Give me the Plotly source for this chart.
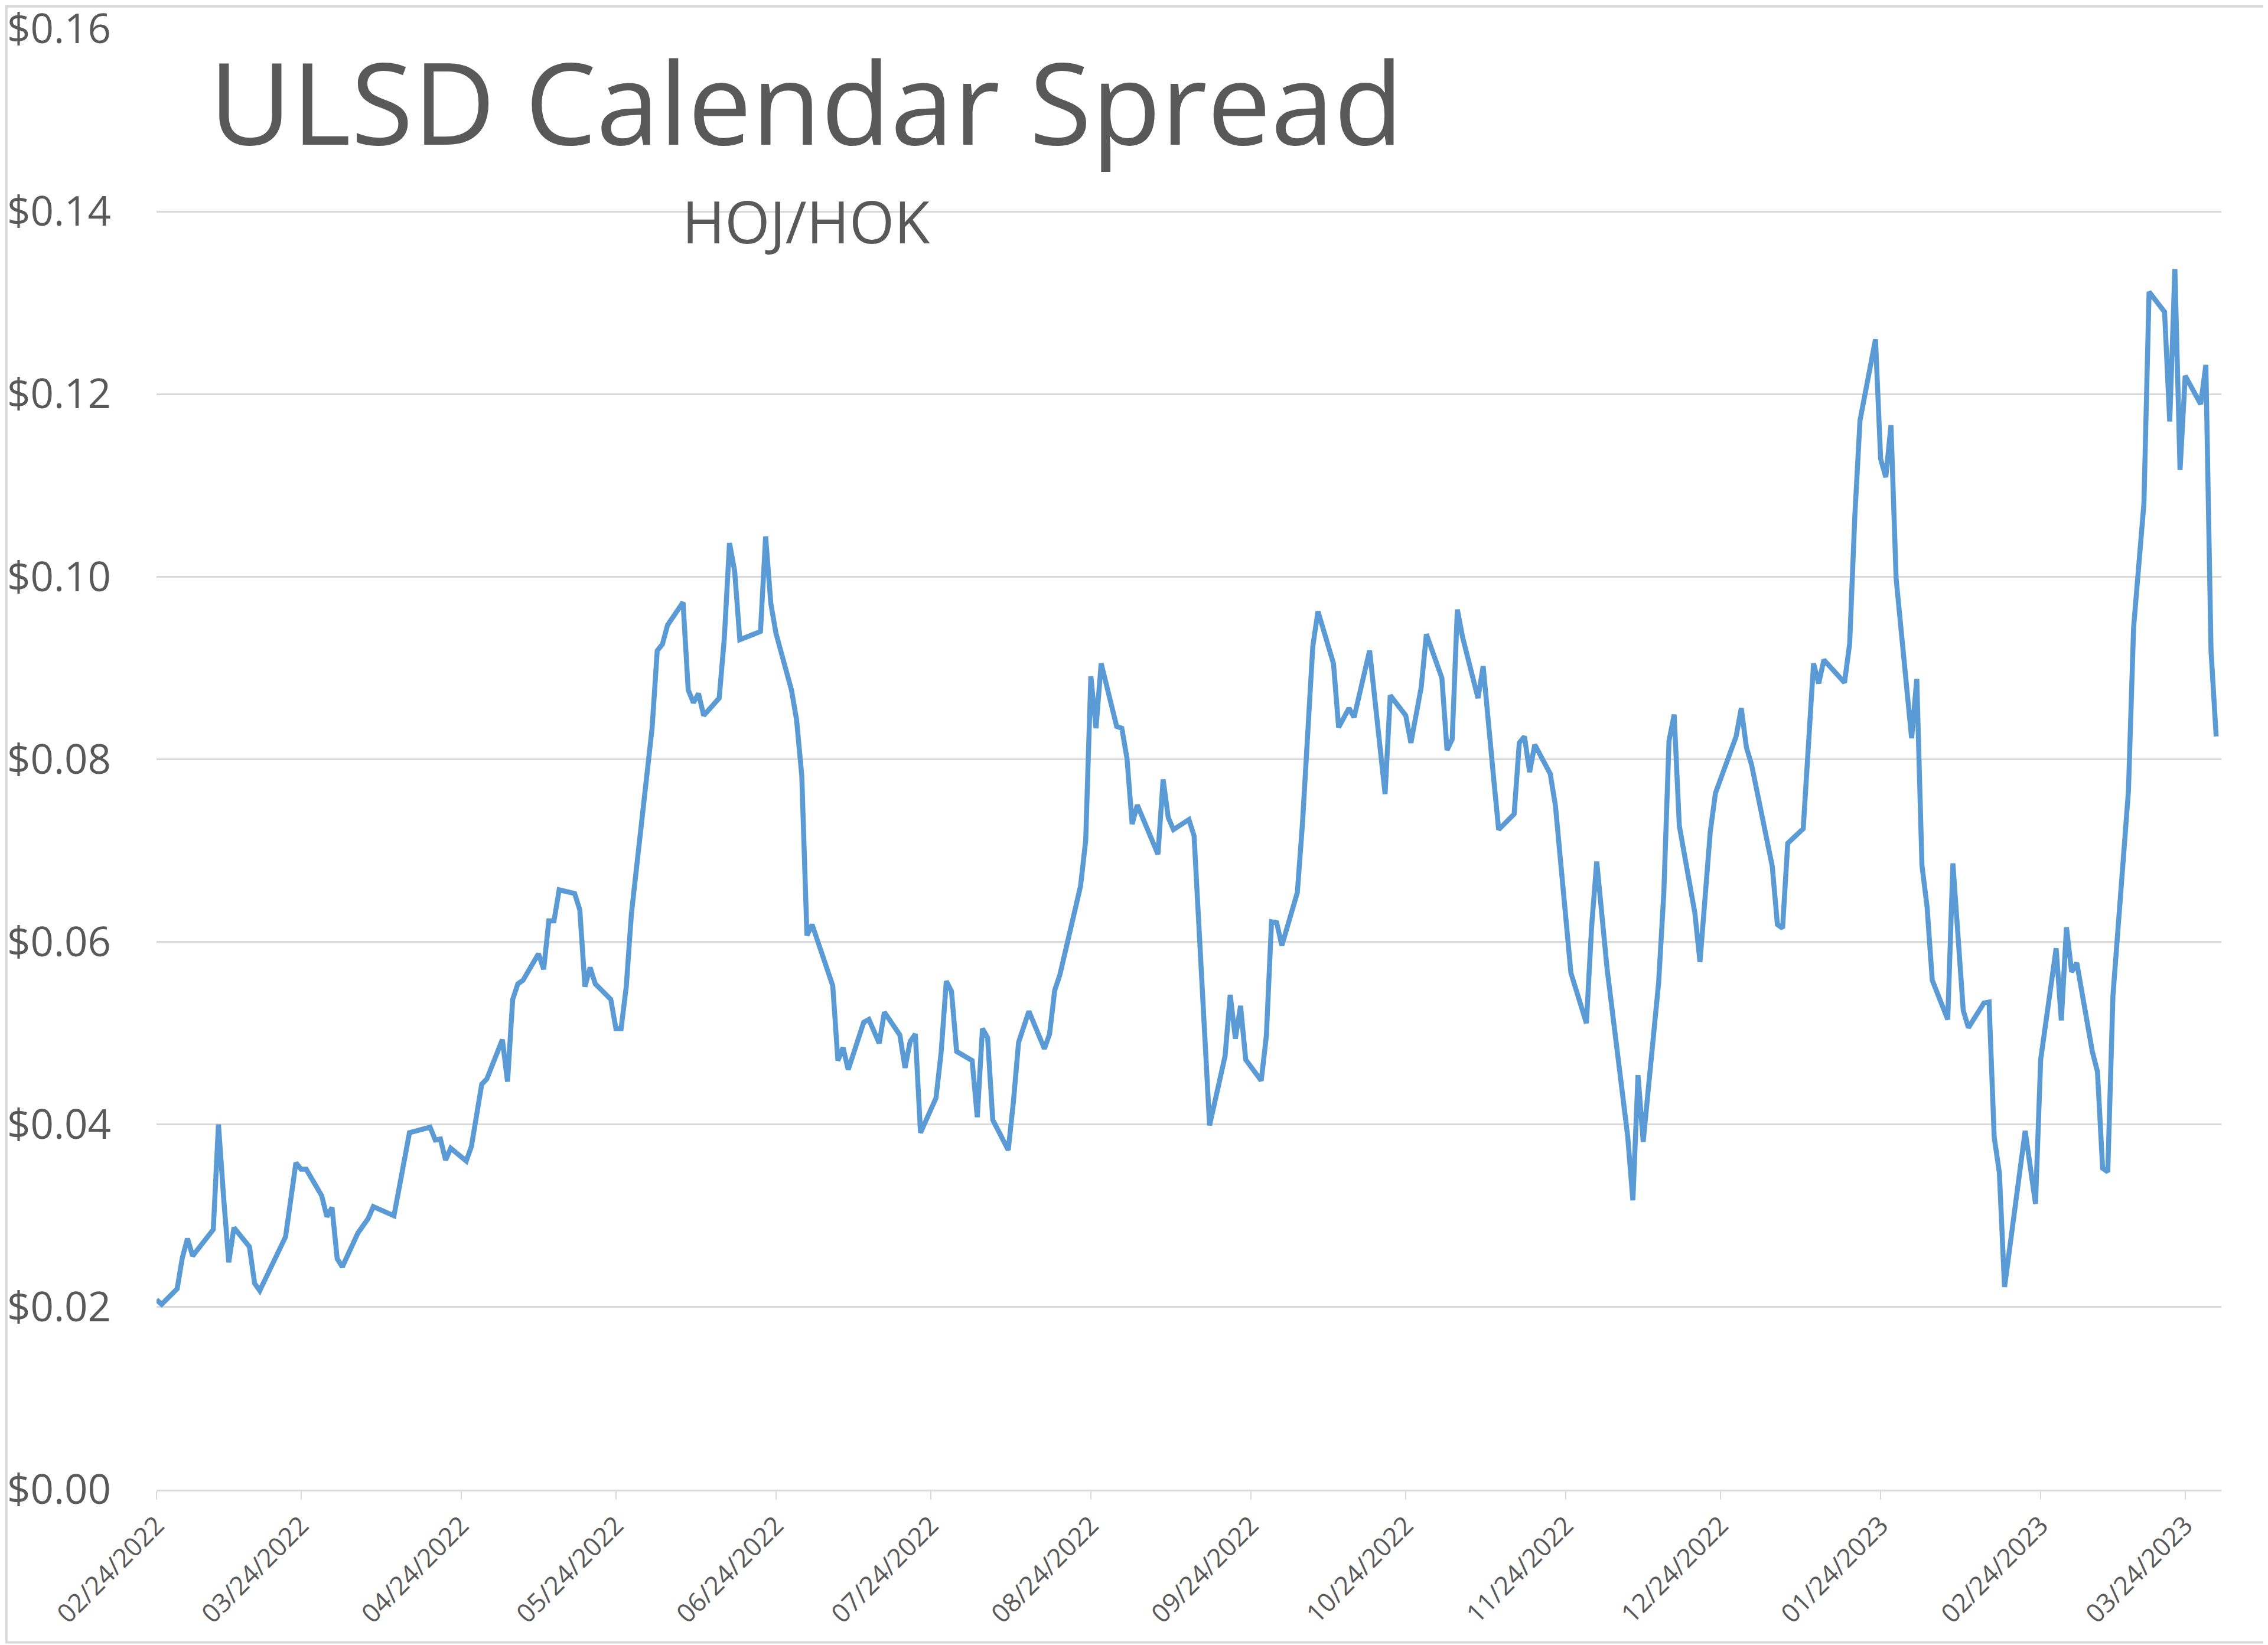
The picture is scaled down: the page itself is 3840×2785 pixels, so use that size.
import plotly.graph_objects as go

# Trading dates and HOJ/HOK calendar spread ($/gal)
dates = [
    "2022-02-24", "2022-02-25", "2022-02-28", "2022-03-01", "2022-03-02", "2022-03-03",
    "2022-03-07", "2022-03-08", "2022-03-09", "2022-03-10", "2022-03-11", "2022-03-14",
    "2022-03-15", "2022-03-16", "2022-03-21", "2022-03-22", "2022-03-23", "2022-03-24",
    "2022-03-25", "2022-03-28", "2022-03-29", "2022-03-30", "2022-03-31", "2022-04-01",
    "2022-04-04", "2022-04-06", "2022-04-07", "2022-04-11", "2022-04-12", "2022-04-13",
    "2022-04-14", "2022-04-18", "2022-04-19", "2022-04-20", "2022-04-21", "2022-04-22",
    "2022-04-25", "2022-04-26", "2022-04-28", "2022-04-29", "2022-05-02", "2022-05-03",
    "2022-05-04", "2022-05-05", "2022-05-06", "2022-05-09", "2022-05-10", "2022-05-11",
    "2022-05-12", "2022-05-13", "2022-05-16", "2022-05-17", "2022-05-18", "2022-05-19",
    "2022-05-20", "2022-05-23", "2022-05-24", "2022-05-25", "2022-05-26", "2022-05-27",
    "2022-05-31", "2022-06-01", "2022-06-02", "2022-06-03", "2022-06-06", "2022-06-07",
    "2022-06-08", "2022-06-09", "2022-06-10", "2022-06-13", "2022-06-14", "2022-06-15",
    "2022-06-16", "2022-06-17", "2022-06-21", "2022-06-22", "2022-06-23", "2022-06-24",
    "2022-06-27", "2022-06-28", "2022-06-29", "2022-06-30", "2022-07-01", "2022-07-05",
    "2022-07-06", "2022-07-07", "2022-07-08", "2022-07-11", "2022-07-12", "2022-07-14",
    "2022-07-15", "2022-07-18", "2022-07-19", "2022-07-20", "2022-07-21", "2022-07-22",
    "2022-07-25", "2022-07-26", "2022-07-27", "2022-07-28", "2022-07-29", "2022-08-01",
    "2022-08-02", "2022-08-03", "2022-08-04", "2022-08-05", "2022-08-08", "2022-08-09",
    "2022-08-10", "2022-08-12", "2022-08-15", "2022-08-16", "2022-08-17", "2022-08-18",
    "2022-08-22", "2022-08-23", "2022-08-24", "2022-08-25", "2022-08-26", "2022-08-29",
    "2022-08-30", "2022-08-31", "2022-09-01", "2022-09-02", "2022-09-06", "2022-09-07",
    "2022-09-08", "2022-09-09", "2022-09-12", "2022-09-13", "2022-09-16", "2022-09-19",
    "2022-09-20", "2022-09-21", "2022-09-22", "2022-09-23", "2022-09-26", "2022-09-27",
    "2022-09-28", "2022-09-29", "2022-09-30", "2022-10-03", "2022-10-04", "2022-10-06",
    "2022-10-07", "2022-10-10", "2022-10-11", "2022-10-13", "2022-10-14", "2022-10-17",
    "2022-10-20", "2022-10-21", "2022-10-24", "2022-10-25", "2022-10-27", "2022-10-28",
    "2022-10-31", "2022-11-01", "2022-11-02", "2022-11-03", "2022-11-04", "2022-11-07",
    "2022-11-08", "2022-11-10", "2022-11-11", "2022-11-14", "2022-11-15", "2022-11-16",
    "2022-11-17", "2022-11-18", "2022-11-21", "2022-11-22", "2022-11-25", "2022-11-28",
    "2022-11-29", "2022-11-30", "2022-12-02", "2022-12-06", "2022-12-07", "2022-12-08",
    "2022-12-09", "2022-12-12", "2022-12-13", "2022-12-14", "2022-12-15", "2022-12-16",
    "2022-12-19", "2022-12-20", "2022-12-22", "2022-12-23", "2022-12-27", "2022-12-28",
    "2022-12-29", "2022-12-30", "2023-01-03", "2023-01-04", "2023-01-05", "2023-01-06",
    "2023-01-09", "2023-01-11", "2023-01-12", "2023-01-13", "2023-01-17", "2023-01-18",
    "2023-01-19", "2023-01-20", "2023-01-23", "2023-01-24", "2023-01-25", "2023-01-26",
    "2023-01-27", "2023-01-30", "2023-01-31", "2023-02-01", "2023-02-02", "2023-02-03",
    "2023-02-06", "2023-02-07", "2023-02-09", "2023-02-10", "2023-02-13", "2023-02-14",
    "2023-02-15", "2023-02-16", "2023-02-17", "2023-02-21", "2023-02-23", "2023-02-24",
    "2023-02-27", "2023-02-28", "2023-03-01", "2023-03-02", "2023-03-03", "2023-03-06",
    "2023-03-07", "2023-03-08", "2023-03-09", "2023-03-10", "2023-03-13", "2023-03-14",
    "2023-03-16", "2023-03-17", "2023-03-20", "2023-03-21", "2023-03-22", "2023-03-23",
    "2023-03-24", "2023-03-27", "2023-03-28", "2023-03-29", "2023-03-30",
]

spread = [
    0.0208, 0.0203, 0.0220, 0.0254, 0.0275, 0.0256,
    0.0285, 0.0400, 0.0320, 0.0249, 0.0287, 0.0266,
    0.0226, 0.0218, 0.0277, 0.0323, 0.0358, 0.0351,
    0.0351, 0.0322, 0.0299, 0.0309, 0.0253, 0.0244,
    0.0281, 0.0297, 0.0310, 0.0300, 0.0333, 0.0361,
    0.0391, 0.0397, 0.0383, 0.0384, 0.0361, 0.0374,
    0.0360, 0.0376, 0.0444, 0.0450, 0.0493, 0.0447,
    0.0537, 0.0554, 0.0558, 0.0587, 0.0570, 0.0623,
    0.0623, 0.0657, 0.0653, 0.0635, 0.0551, 0.0572,
    0.0554, 0.0537, 0.0505, 0.0505, 0.0551, 0.0631,
    0.0834, 0.0919, 0.0926, 0.0947, 0.0972, 0.0876,
    0.0862, 0.0872, 0.0848, 0.0867, 0.0933, 0.1037,
    0.1006, 0.0931, 0.0940, 0.1044, 0.0971, 0.0938,
    0.0876, 0.0843, 0.0782, 0.0607, 0.0619, 0.0552,
    0.0470, 0.0484, 0.0460, 0.0512, 0.0515, 0.0489,
    0.0523, 0.0498, 0.0462, 0.0491, 0.0499, 0.0391,
    0.0429, 0.0479, 0.0557, 0.0546, 0.0480, 0.0470,
    0.0408, 0.0505, 0.0495, 0.0405, 0.0372, 0.0425,
    0.0490, 0.0524, 0.0483, 0.0499, 0.0547, 0.0564,
    0.0661, 0.0711, 0.0891, 0.0834, 0.0905, 0.0836,
    0.0834, 0.0801, 0.0729, 0.0750, 0.0696, 0.0778,
    0.0736, 0.0723, 0.0734, 0.0716, 0.0399, 0.0475,
    0.0542, 0.0494, 0.0530, 0.0471, 0.0448, 0.0497,
    0.0622, 0.0621, 0.0596, 0.0654, 0.0730, 0.0924,
    0.0962, 0.0905, 0.0835, 0.0856, 0.0846, 0.0919,
    0.0762, 0.0870, 0.0848, 0.0818, 0.0879, 0.0937,
    0.0889, 0.0810, 0.0822, 0.0964, 0.0934, 0.0867,
    0.0902, 0.0781, 0.0723, 0.0740, 0.0818, 0.0825,
    0.0786, 0.0816, 0.0784, 0.0749, 0.0566, 0.0511,
    0.0616, 0.0688, 0.0571, 0.0387, 0.0317, 0.0454,
    0.0381, 0.0556, 0.0654, 0.0820, 0.0849, 0.0727,
    0.0632, 0.0578, 0.0721, 0.0763, 0.0825, 0.0856,
    0.0813, 0.0794, 0.0683, 0.0619, 0.0615, 0.0708,
    0.0724, 0.0905, 0.0883, 0.0909, 0.0884, 0.0927,
    0.1067, 0.1171, 0.1260, 0.1129, 0.1109, 0.1166,
    0.0998, 0.0823, 0.0888, 0.0684, 0.0638, 0.0558,
    0.0515, 0.0686, 0.0525, 0.0506, 0.0533, 0.0534,
    0.0386, 0.0347, 0.0222, 0.0393, 0.0313, 0.0471,
    0.0593, 0.0514, 0.0616, 0.0567, 0.0577, 0.0480,
    0.0458, 0.0352, 0.0348, 0.0541, 0.0765, 0.0944,
    0.1080, 0.1312, 0.1290, 0.1170, 0.1337, 0.1117,
    0.1220, 0.1189, 0.1232, 0.0919, 0.0825,
]

# x axis ticks: the 24th of every month
tick_dates = [
    "2022-02-24", "2022-03-24", "2022-04-24", "2022-05-24", "2022-06-24", "2022-07-24",
    "2022-08-24", "2022-09-24", "2022-10-24", "2022-11-24", "2022-12-24", "2023-01-24",
    "2023-02-24", "2023-03-24",
]
tick_labels = [
    "02/24/2022", "03/24/2022", "04/24/2022", "05/24/2022", "06/24/2022", "07/24/2022",
    "08/24/2022", "09/24/2022", "10/24/2022", "11/24/2022", "12/24/2022", "01/24/2023",
    "02/24/2023", "03/24/2023",
]

TEXT = "#595959"
GRID = "#D9D9D9"
FONT = "Open Sans"

fig = go.Figure()
fig.add_trace(go.Scatter(x=dates, y=spread, mode="lines",
                         line=dict(color="#5B9BD5", width=8.5),
                         showlegend=False))

# the page adds ~8px around the plot div, margins compensate for it
fig.update_layout(
    width=3840, height=2785,
    margin=dict(l=257, r=87, t=41, b=271),
    paper_bgcolor="white", plot_bgcolor="white",
    font=dict(family=FONT, color=TEXT),
)

fig.update_xaxes(
    type="date", range=["2022-02-24", "2023-03-31"],
    tickvals=tick_dates, ticktext=tick_labels, tickangle=-45,
    tickfont=dict(size=44, color=TEXT), automargin=False,
    showgrid=False, zeroline=False,
    showline=True, linecolor=GRID, linewidth=3,
    ticks="outside", ticklen=14, tickwidth=2, tickcolor=GRID,
)
fig.update_yaxes(
    range=[0, 0.16], dtick=0.02, tickprefix="$", tickformat=".2f",
    tickfont=dict(size=69, color=TEXT), ticklabelstandoff=76,
    ticklabeloverflow="allow", automargin=False,
    showgrid=True, gridcolor=GRID, gridwidth=3, zeroline=False,
)

# Titre et sous-titre dans la zone du graphique
fig.add_annotation(text="ULSD Calendar Spread", xref="paper", yref="paper",
                   x=0.3146, y=0.951, xanchor="center", yanchor="middle",
                   showarrow=False, font=dict(size=192, color=TEXT, family=FONT))
fig.add_annotation(text="HOJ/HOK", xref="paper", yref="paper",
                   x=0.3145, y=0.8685, xanchor="center", yanchor="middle",
                   showarrow=False, font=dict(size=98, color=TEXT, family=FONT))

# Light border around the whole chart area
fig.add_shape(type="rect", xref="paper", yref="paper",
              x0=-0.0727, x1=1.0225, y0=-0.1045, y1=1.0155,
              line=dict(color=GRID, width=4))

fig.write_html("out.html")
